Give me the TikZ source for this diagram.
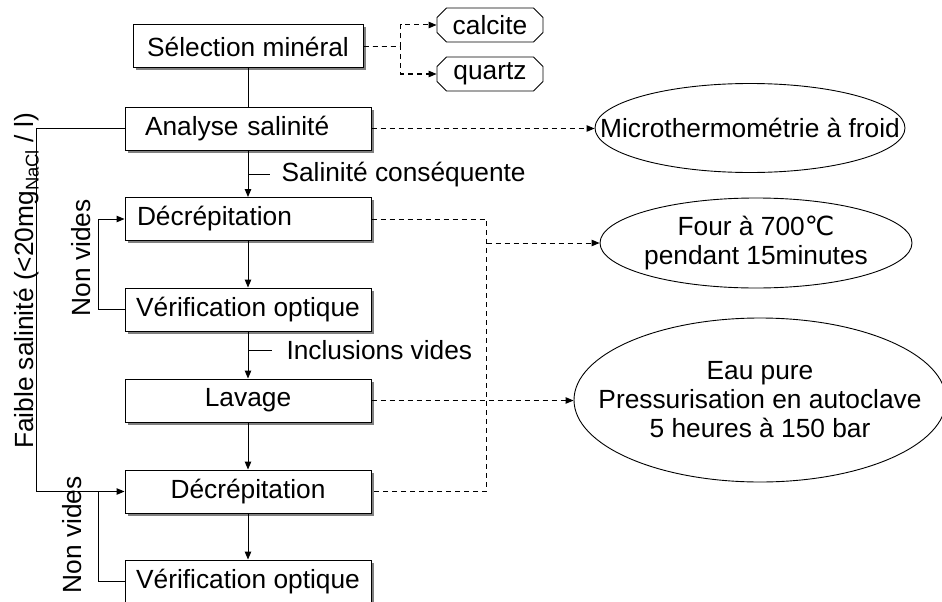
\documentclass[tikz,border=0pt]{standalone}
\usepackage{fontspec}
\setmainfont{Liberation Sans}
\newfontfamily\dmsym{DejaVu Sans}
\usetikzlibrary{arrows.meta,positioning,shapes.geometric,shapes.misc,shadows}
\definecolor{dmink}{HTML}{000000}
\definecolor{dmshade}{HTML}{808080}
\tikzset{
  dm text/.style={font=\fontsize{26.3}{29}\selectfont, text=dmink},
  dm box/.style={draw=dmink, line width=1pt, fill=white, minimum width=246pt,
    minimum height=43pt, inner sep=0pt, align=center,
    drop shadow={shadow xshift=2.5pt, shadow yshift=-2.5pt, fill=dmshade, opacity=1}},
  dm box left/.style={dm box, text width=222pt, align=left, inner xsep=12pt},
  dm pill/.style={draw=dmink, line width=0.9pt, chamfered rectangle,
    chamfered rectangle xsep=6pt, minimum width=106pt, minimum height=34pt, inner sep=0pt},
  dm bulle/.style={draw=dmink, line width=0.9pt, ellipse, inner sep=0pt},
  dm link/.style={line width=1pt, draw=dmink},
  dm flow/.style={dm link, -{Triangle[length=8pt,width=6.5pt]}},
  dm dash/.style={dm link, dash pattern=on 5pt off 4pt},
  dm dash arrow/.style={dm dash, -{Triangle[length=8pt,width=6.5pt]}},
  dm side/.style={rotate=90, inner sep=0pt}
}

\begin{document}
\begin{tikzpicture}[dm text, x=1pt, y=-1pt]
  \useasboundingbox (0,0) rectangle (942,602);
  % main column
  \node[dm box, minimum width=230pt] (sel) at (248,46.5) {Sélection minéral};
  \node[dm box left, text width=206pt] (ana) at (248,128.5) {Analyse salinité};
  \node[dm box left] (dec1) at (248,219) {Décrépitation};
  \node[dm box] (ver1) at (248,309.5) {Vérification optique};
  \node[dm box] (lav) at (248,400.5) {Lavage};
  \node[dm box] (dec2) at (248,491.5) {Décrépitation};
  \node[dm box] (ver2) at (248,581.5) {Vérification optique};
  % side notes
  \node[dm pill] (calcite) at (490,25) {calcite};
  \node[dm pill] (quartz) at (490,74) {quartz};
  \node[dm bulle, minimum width=310pt, minimum height=89pt,
    label=center:{Microthermométrie à froid}] (micro) at (750,128) {};
  \node[dm bulle, minimum width=312pt, minimum height=90pt,
    label={[align=center]center:{Four à 700{\dmsym ℃}\\pendant 15minutes}}] (four) at (756,243) {};
  \node[dm bulle, minimum width=372pt, minimum height=164pt,
    label={[align=center]center:{Eau pure\\Pressurisation en autoclave\\5 heures à 150 bar}}] (eau) at (760,400) {};

  \draw[dm link] (sel) -- (ana);
  \draw[dm flow] (ana) -- coordinate[pos=0.52] (tsal) (dec1);
  \draw[dm flow] (dec1) -- (ver1);
  \draw[dm flow] (ver1) -- coordinate[pos=0.4] (tinc) (lav);
  \draw[dm flow] (lav) -- (dec2);
  \draw[dm flow] (dec2) -- (ver2);
  \draw[dm link] (tsal) -- ++(22,0) node[anchor=west, inner xsep=11pt] (lsal) {Salinité conséquente};
  \draw[dm link] (tinc) -- ++(24,0) node[anchor=west, inner xsep=14pt] (linc) {Inclusions vides};

  % loops on the left
  \draw[dm flow] (ana.west) -- ++(-88,0) |- (dec2.west);
  \draw[dm flow] (ver1.west) -- ++(-26,0) |- (dec1.west);
  \draw[dm link] (ver2.west) -- ++(-26,0) -- ++(0,-90);
  \node[dm side] (lfaible) at (27,281) {Faible salinité (<20mg\textsubscript{NaCl} / l)};
  \node[dm side] (lnon1) at (81,258) {Non vides};
  \node[dm side] (lnon2) at (72,535) {Non vides};

  % dashed links
  \draw[dm dash arrow] (sel.east) -- ++(37,0) |- (calcite.west);
  \draw[dm dash arrow] (sel.east) -- ++(37,0) |- (quartz.west);
  \draw[dm dash arrow] (ana.east) -- (ana.east -| micro.west);
  \draw[dm dash] (dec1.east) -- ++(115,0) coordinate (jtop) -- (jtop |- dec2.east) -- (dec2.east);
  \draw[dm dash arrow] (jtop |- four.west) -- (four.west);
  \draw[dm dash arrow] (lav.east) -- (lav.east -| eau.west);
\end{tikzpicture}
\end{document}
